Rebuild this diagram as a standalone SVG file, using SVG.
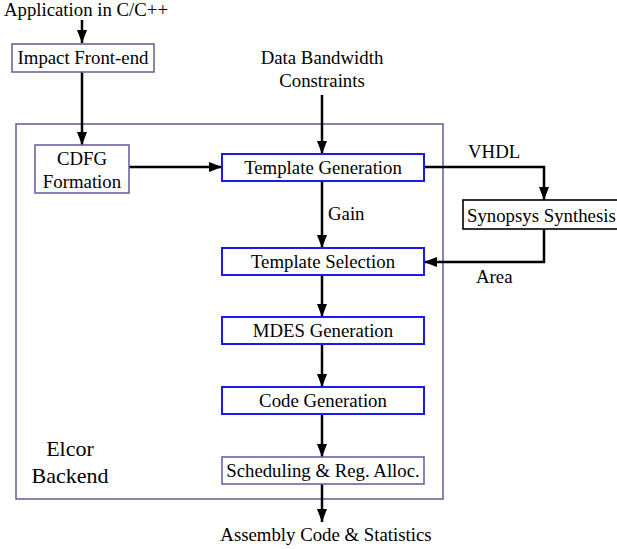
<svg xmlns="http://www.w3.org/2000/svg" width="617" height="549" viewBox="0 0 617 549">
<defs>
<marker id="a" viewBox="0 0 13 10" refX="13" refY="5" markerWidth="13" markerHeight="10" orient="auto" markerUnits="userSpaceOnUse"><path d="M0,0 L13,5 L0,10 Z" fill="#000"/></marker>
</defs>
<style>
text{font-family:"Liberation Serif","Times New Roman",serif;font-size:18.8px;fill:#000}
.t{text-anchor:middle}
.p{fill:#fff;stroke:#6a64a0;stroke-width:1.6}
.b{fill:#fff;stroke:#1a1aee;stroke-width:2}
.k{fill:#fff;stroke:#000;stroke-width:1.6}
.c{fill:none;stroke:#000;stroke-width:2.5}
</style>
<rect id="outer" x="16" y="124" width="427" height="375" fill="none" stroke="#6a64a0" stroke-width="1.6"/>
<g id="connectors">
<path class="c" d="M82,20 V43" marker-end="url(#a)"/>
<path class="c" d="M82,72 V145" marker-end="url(#a)"/>
<path class="c" d="M129,167 H222" marker-end="url(#a)"/>
<path class="c" d="M322,95 V154" marker-end="url(#a)"/>
<path class="c" d="M424,167 H544 V200" marker-end="url(#a)"/>
<path class="c" d="M544,229 V262 H424" marker-end="url(#a)"/>
<path class="c" d="M322,181 V248" marker-end="url(#a)"/>
<path class="c" d="M322,275 V317" marker-end="url(#a)"/>
<path class="c" d="M322,344 V387" marker-end="url(#a)"/>
<path class="c" d="M322,414 V457" marker-end="url(#a)"/>
<path class="c" d="M322,484 V522" marker-end="url(#a)"/>
</g>
<text class="t" x="86" y="16">Application in C/C++</text>
<g id="impact"><rect class="p" x="12" y="44" width="142" height="28"/><text class="t" x="83" y="64">Impact Front-end</text></g>
<g id="cdfg"><rect class="p" x="35" y="145" width="94" height="48"/><text class="t" x="82" y="165">CDFG</text><text class="t" x="82" y="188">Formation</text></g>
<text class="t" x="322" y="64">Data Bandwidth</text>
<text class="t" x="322" y="87">Constraints</text>
<g id="tgen"><rect class="b" x="222" y="154" width="202" height="27"/><text class="t" x="323" y="174">Template Generation</text></g>
<text x="468" y="158">VHDL</text>
<g id="syn"><rect class="k" x="463" y="200" width="160" height="29"/><text x="467" y="222">Synopsys Synthesis</text></g>
<text x="476" y="283">Area</text>
<text x="328" y="220">Gain</text>
<g id="tsel"><rect class="b" x="222" y="248" width="202" height="27"/><text class="t" x="323" y="268">Template Selection</text></g>
<g id="mdes"><rect class="b" x="222" y="317" width="202" height="27"/><text class="t" x="323" y="337">MDES Generation</text></g>
<g id="code"><rect class="b" x="222" y="387" width="202" height="27"/><text class="t" x="323" y="407">Code Generation</text></g>
<g id="sched"><rect class="p" x="222" y="457" width="202" height="27"/><text class="t" x="323" y="477">Scheduling &amp; Reg. Alloc.</text></g>
<text class="t" x="70" y="456" style="font-size:22px">Elcor</text>
<text class="t" x="70" y="483" style="font-size:22px">Backend</text>
<text class="t" x="326" y="541">Assembly Code &amp; Statistics</text>
</svg>
